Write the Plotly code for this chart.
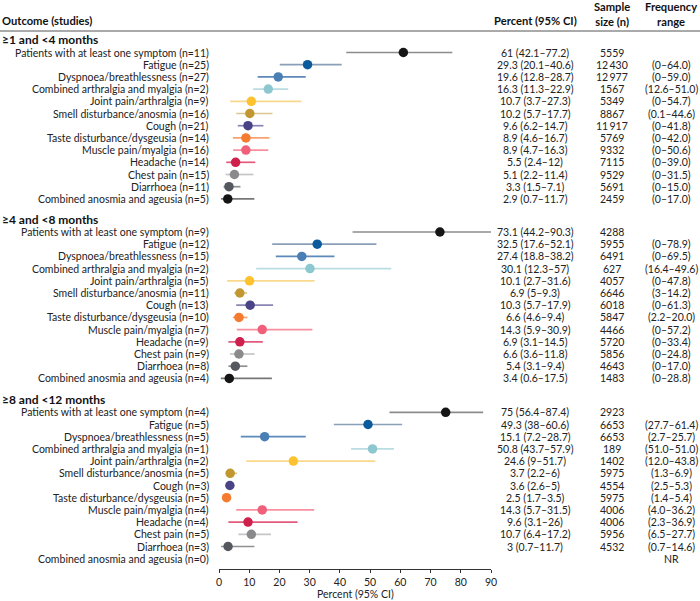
import plotly.graph_objects as go

# ---------------- data ----------------
sections = ["≥1 and <4 months", "≥4 and <8 months", "≥8 and <12 months"]
outcomes = ["Patients with at least one symptom", "Fatigue", "Dyspnoea/breathlessness",
            "Combined arthralgia and myalgia", "Joint pain/arthralgia",
            "Smell disturbance/anosmia", "Cough", "Taste disturbance/dysgeusia",
            "Muscle pain/myalgia", "Headache", "Chest pain", "Diarrhoea",
            "Combined anosmia and ageusia"]

studies_1 = [11, 25, 27, 2, 9, 16, 21, 14, 16, 14, 15, 11, 5]
pct_1 = [61, 29.3, 19.6, 16.3, 10.7, 10.2, 9.6, 8.9, 8.9, 5.5, 5.1, 3.3, 2.9]
lo_1 = [42.1, 20.1, 12.8, 11.3, 3.7, 5.7, 6.2, 4.6, 4.7, 2.4, 2.2, 1.5, 0.7]
hi_1 = [77.2, 40.6, 28.7, 22.9, 27.3, 17.7, 14.7, 16.7, 16.3, 12, 11.4, 7.1, 11.7]
n_1 = [5559, 12430, 12977, 1567, 5349, 8867, 11917, 5769, 9332, 7115, 9529, 5691, 2459]
freq_1 = ["", "(0–64.0)", "(0–59.0)", "(12.6–51.0)", "(0–54.7)", "(0.1–44.6)", "(0–41.8)",
          "(0–42.0)", "(0–50.6)", "(0–39.0)", "(0–31.5)", "(0–15.0)", "(0–17.0)"]

studies_2 = [9, 12, 15, 2, 5, 11, 13, 10, 7, 9, 9, 8, 4]
pct_2 = [73.1, 32.5, 27.4, 30.1, 10.1, 6.9, 10.3, 6.6, 14.3, 6.9, 6.6, 5.4, 3.4]
lo_2 = [44.2, 17.6, 18.8, 12.3, 2.7, 5, 5.7, 4.6, 5.9, 3.1, 3.6, 3.1, 0.6]
hi_2 = [90.3, 52.1, 38.2, 57, 31.6, 9.3, 17.9, 9.4, 30.9, 14.5, 11.8, 9.4, 17.5]
n_2 = [4288, 5955, 6491, 627, 4057, 6646, 6018, 5847, 4466, 5720, 5856, 4643, 1483]
freq_2 = ["", "(0–78.9)", "(0–69.5)", "(16.4–49.6)", "(0–47.8)", "(3–14.2)", "(0–61.3)",
          "(2.2–20.0)", "(0–57.2)", "(0–33.4)", "(0–24.8)", "(0–17.0)", "(0–28.8)"]

studies_3 = [4, 5, 5, 1, 2, 5, 3, 5, 4, 4, 5, 3, 0]
pct_3 = [75, 49.3, 15.1, 50.8, 24.6, 3.7, 3.6, 2.5, 14.3, 9.6, 10.7, 3, None]
lo_3 = [56.4, 38, 7.2, 43.7, 9, 2.2, 2.6, 1.7, 5.7, 3.1, 6.4, 0.7, None]
hi_3 = [87.4, 60.6, 28.7, 57.9, 51.7, 6, 5, 3.5, 31.5, 26, 17.2, 11.7, None]
n_3 = [2923, 6653, 6653, 189, 1402, 5975, 4554, 5975, 4006, 4006, 5956, 4532, None]
freq_3 = ["", "(27.7–61.4)", "(2.7–25.7)", "(51.0–51.0)", "(12.0–43.8)", "(1.3–6.9)",
          "(2.5–5.3)", "(1.4–5.4)", "(4.0–36.2)", "(2.3–36.9)", "(6.5–27.7)",
          "(0.7–14.6)", "NR"]

x_ticks = [0, 10, 20, 30, 40, 50, 60, 70, 80, 90]

# ---------------- style ----------------
dot_colors = ["#151515", "#0b5a9c", "#4a7fb6", "#8dc7cf", "#fec22e", "#c1972f", "#4a4486",
              "#f47b2f", "#f0607a", "#cf1f4b", "#8a8a8c", "#55585e", "#151515"]
line_colors = ["#8c8c8c", "#8aa0b8", "#5d89bb", "#b9dde2", "#f8d98c", "#ddc790", "#8985b5",
               "#f8a26e", "#f7909f", "#e25b7c", "#c6c6c6", "#8e9094", "#777777"]
FONT = "Lato"
TXT = "#222222"

SEC_FIRST = [52.5, 232.0, 412.3]
ROW_STEP = 12.2
HEAD_OFF = 12.8

X0_PX, X1_PX, W, H = 219, 491, 700, 601
AXIS_Y = 569
TITLE_Y = 594
COL_PCT, COL_N, COL_FR = 535, 612, 671

secdata = [
    (studies_1, pct_1, lo_1, hi_1, n_1, freq_1),
    (studies_2, pct_2, lo_2, hi_2, n_2, freq_2),
    (studies_3, pct_3, lo_3, hi_3, n_3, freq_3),
]


def fmt_n(v):
    if v is None:
        return ""
    s = str(v)
    if len(s) >= 5:
        s = s[:-3] + "\u2009" + s[-3:]
    return s


fig = go.Figure()
ann = []
LBL = 10.5

for s, (st, pc, lo, hi, nn, fr) in enumerate(secdata):
    hy = SEC_FIRST[s] - HEAD_OFF
    ann.append(dict(x=0, xref="paper", y=hy, yref="y", text="<b>" + sections[s] + "</b>",
                    xanchor="left", yanchor="middle", showarrow=False,
                    font=dict(family=FONT, size=12, color="#111")))
    for i, name in enumerate(outcomes):
        y = SEC_FIRST[s] + i * ROW_STEP
        ann.append(dict(x=211 / W, xref="paper", y=y, yref="y",
                        text=f"{name} (n={st[i]})", xanchor="right", yanchor="middle",
                        showarrow=False, font=dict(family=FONT, size=LBL, color=TXT)))
        if pc[i] is not None:
            fig.add_trace(go.Scatter(x=[lo[i], hi[i]], y=[y, y], mode="lines",
                                     line=dict(color=line_colors[i], width=1.7),
                                     hoverinfo="skip", showlegend=False, cliponaxis=False))
            fig.add_trace(go.Scatter(x=[pc[i]], y=[y], mode="markers",
                                     marker=dict(color=dot_colors[i], size=9.5),
                                     showlegend=False, cliponaxis=False,
                                     name=name))
            ann.append(dict(x=COL_PCT / W, xref="paper", y=y, yref="y",
                            text=f"{pc[i]:g} ({lo[i]:g}–{hi[i]:g})", xanchor="center",
                            yanchor="middle", showarrow=False,
                            font=dict(family=FONT, size=LBL, color=TXT)))
        ann.append(dict(x=COL_N / W, xref="paper", y=y, yref="y", text=fmt_n(nn[i]),
                        xanchor="center", yanchor="middle", showarrow=False,
                        font=dict(family=FONT, size=LBL, color=TXT)))
        if fr[i]:
            ann.append(dict(x=COL_FR / W, xref="paper", y=y, yref="y", text=fr[i],
                            xanchor="center", yanchor="middle", showarrow=False,
                            font=dict(family=FONT, size=LBL, color=TXT)))

# headers
hfont = dict(family=FONT, size=11.2, color="#111")
ann += [
    dict(x=0, xref="paper", y=20, yref="y", text="<b>Outcome (studies)</b>",
         xanchor="left", yanchor="middle", showarrow=False, font=hfont),
    dict(x=COL_PCT / W, xref="paper", y=20, yref="y", text="<b>Percent (95% CI)</b>",
         xanchor="center", yanchor="middle", showarrow=False, font=hfont),
    dict(x=COL_N / W, xref="paper", y=13.5, yref="y", text="<b>Sample<br>size (n)</b>",
         xanchor="center", yanchor="middle", showarrow=False, font=hfont),
    dict(x=COL_FR / W, xref="paper", y=13.5, yref="y", text="<b>Frequency<br>range</b>",
         xanchor="center", yanchor="middle", showarrow=False, font=hfont),
    dict(x=(X0_PX + X1_PX) / 2 / W, xref="paper", y=(H - TITLE_Y) / H, yref="paper",
         text="Percent (95% CI)", xanchor="center", yanchor="middle", showarrow=False,
         font=dict(family=FONT, size=LBL, color=TXT)),
]

fig.update_layout(
    width=W, height=H, margin=dict(l=0, r=0, t=0, b=0, autoexpand=False),
    paper_bgcolor="white", plot_bgcolor="white",
    annotations=ann,
    shapes=[dict(type="line", xref="paper", yref="y", x0=0, x1=1, y0=31, y1=31,
                 line=dict(color="#555", width=1))],
    xaxis=dict(domain=[X0_PX / W, X1_PX / W], range=[0, 90], tickvals=x_ticks,
               showgrid=False, zeroline=False, showline=True, linecolor="#333",
               linewidth=1, ticks="outside", ticklen=3, tickcolor="#333",
               tickfont=dict(family=FONT, size=LBL, color=TXT)),
    yaxis=dict(domain=[(H - AXIS_Y) / H, 1], range=[AXIS_Y, 0], visible=False),
)

fig.write_html("out.html", config={"displayModeBar": False},
               post_script="document.body.style.margin='0';document.body.style.overflow='hidden';")
